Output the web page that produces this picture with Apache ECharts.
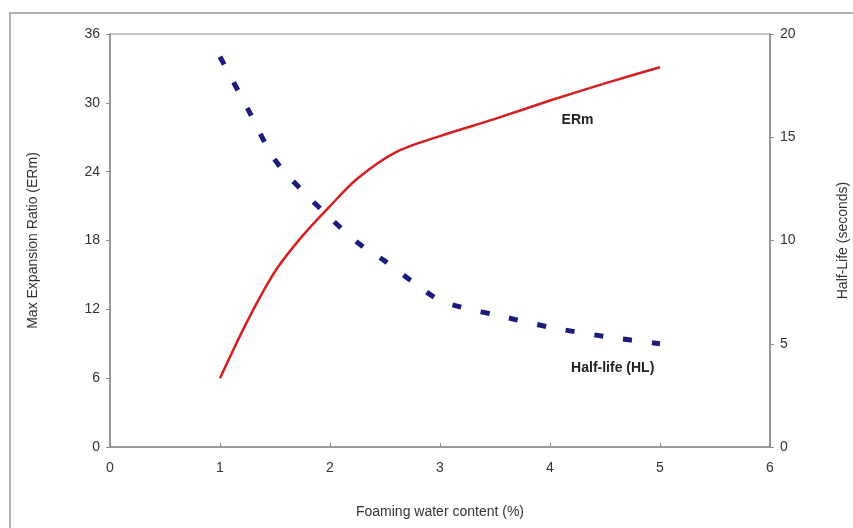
<!DOCTYPE html>
<html>
<head>
<meta charset="utf-8">
<script src="https://cdn.jsdelivr.net/npm/echarts@6/dist/echarts.min.js"></script>
<style>
  html, body { margin: 0; padding: 0; background: #fff; }
  #chart { width: 853px; height: 528px; }
</style>
</head>
<body>
<div id="chart"></div>
<script>
// ERm (left axis)
const ermX = [1, 1.25, 1.5, 1.75, 2, 2.25, 2.6, 3, 3.5, 4, 4.5, 5];
const ermY = [6, 11, 15.3, 18.4, 21, 23.4, 25.7, 27.1, 28.6, 30.2, 31.7, 33.1];

// Half-life (right axis)
const hlX = [1, 1.25, 1.5, 1.75, 2, 2.25, 2.5, 2.75, 3, 3.25, 3.5, 4, 4.5, 5];
const hlY = [18.9, 16.4, 13.9, 12.4, 11.1, 9.9, 9.0, 8.0, 7.1, 6.7, 6.4, 5.8, 5.35, 5.0];

const leftTicks = [0, 6, 12, 18, 24, 30, 36];
const rightTicks = [0, 5, 10, 15, 20];

const font = 'Liberation Sans, Arial, sans-serif';
const axisGray = '#8a8a8a';

const myChart = echarts.init(document.getElementById('chart'));

const options = {
  animation: false,
  backgroundColor: '#fff',
  textStyle: { fontFamily: font },
  graphic: [
    {
      type: 'rect',
      shape: { x: 10, y: 13, width: 850, height: 520 },
      style: { fill: 'none', stroke: '#b0b0b0', lineWidth: 2 },
      silent: true
    }
  ],
  grid: {
    left: 110, right: 83, top: 34, bottom: 81,
    outerBoundsMode: 'none',
    show: true, borderColor: axisGray, borderWidth: 1, backgroundColor: 'transparent'
  },
  xAxis: {
    type: 'value', min: 0, max: 6, interval: 1,
    name: 'Foaming water content (%)', nameLocation: 'middle', nameGap: 58,
    nameTextStyle: { fontSize: 14, color: '#333', fontFamily: font },
    axisLine: { lineStyle: { color: axisGray, width: 1.5 } },
    axisTick: { show: true, length: 4, inside: true, lineStyle: { color: axisGray } },
    axisLabel: { fontSize: 14, color: '#333', margin: 14, fontFamily: font },
    splitLine: { show: false }
  },
  yAxis: [
    {
      type: 'value', min: leftTicks[0], max: leftTicks[leftTicks.length - 1], interval: 6,
      position: 'left',
      name: 'Max Expansion Ratio (ERm)', nameLocation: 'middle', nameGap: 70, nameRotate: 90,
      nameTextStyle: { fontSize: 14, color: '#333', fontFamily: font },
      axisLine: { show: true, lineStyle: { color: axisGray, width: 1.5 } },
      axisTick: { show: true, length: 4, lineStyle: { color: axisGray } },
      axisLabel: { fontSize: 14, color: '#333', margin: 10, fontFamily: font },
      splitLine: { show: false }
    },
    {
      type: 'value', min: rightTicks[0], max: rightTicks[rightTicks.length - 1], interval: 5,
      position: 'right',
      name: 'Half-Life (seconds)', nameLocation: 'middle', nameGap: 66, nameRotate: 90,
      nameTextStyle: { fontSize: 14, color: '#333', fontFamily: font },
      axisLine: { show: true, lineStyle: { color: axisGray, width: 1.5 } },
      axisTick: { show: true, length: 4, lineStyle: { color: axisGray } },
      axisLabel: { fontSize: 14, color: '#333', margin: 10, fontFamily: font },
      splitLine: { show: false }
    }
  ],
  series: [
    {
      name: 'ERm',
      type: 'line',
      yAxisIndex: 0,
      data: ermX.map((x, i) => [x, ermY[i]]),
      smooth: 0.3,
      showSymbol: false,
      lineStyle: { color: '#d42020', width: 2.5 },
      markPoint: {
        symbol: 'circle', symbolSize: 0,
        label: { show: true, formatter: 'ERm', color: '#222', fontWeight: 'bold', fontSize: 14, fontFamily: font },
        data: [{ coord: [4.25, 28.5] }]
      }
    },
    {
      name: 'Half-life (HL)',
      type: 'line',
      yAxisIndex: 1,
      data: hlX.map((x, i) => [x, hlY[i]]),
      smooth: 0.3,
      showSymbol: false,
      lineStyle: { color: '#1c1c7a', width: 5, type: [9, 20] },
      markPoint: {
        symbol: 'circle', symbolSize: 0,
        label: { show: true, formatter: 'Half-life (HL)', color: '#222', fontWeight: 'bold', fontSize: 14, fontFamily: font },
        data: [{ coord: [4.57, 3.8] }]
      }
    }
  ]
};

myChart.setOption(options);
</script>
</body>
</html>
